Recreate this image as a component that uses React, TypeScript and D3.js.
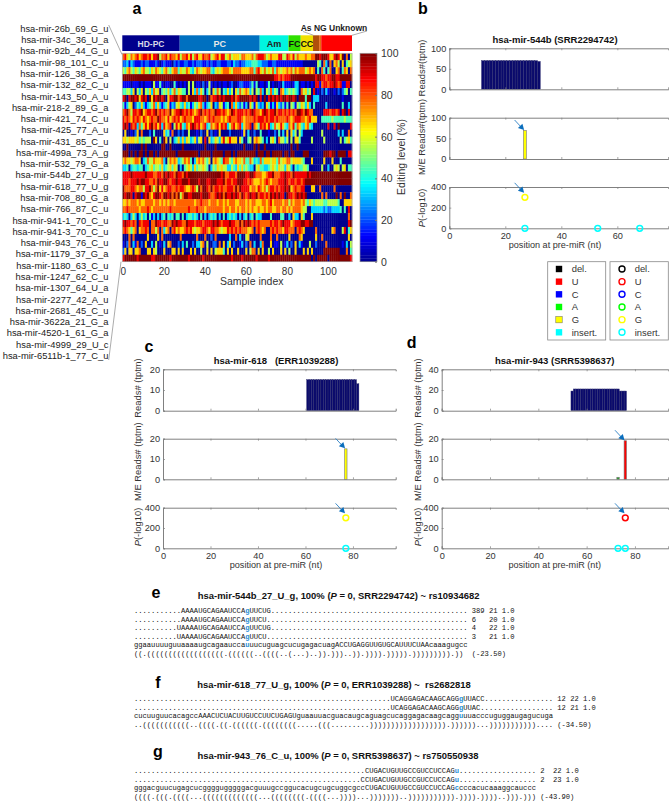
import React, { useEffect, useRef } from 'react';
import * as d3 from 'd3';

const FONT = '"Liberation Sans", Arial, sans-serif';
const MONO = '"Liberation Mono", monospace';

const sampleLabels = [
  'hsa-mir-26b_69_G_u', 'hsa-mir-34c_36_U_a', 'hsa-mir-92b_44_G_u', 'hsa-mir-98_101_C_u', 'hsa-mir-126_38_G_a',
  'hsa-mir-132_82_C_u', 'hsa-mir-143_50_A_u', 'hsa-mir-218-2_89_G_a', 'hsa-mir-421_74_C_u', 'hsa-mir-425_77_A_u',
  'hsa-mir-431_85_C_u', 'hsa-mir-499a_73_A_g', 'hsa-mir-532_79_G_a', 'hsa-mir-544b_27_U_g', 'hsa-mir-618_77_U_g',
  'hsa-mir-708_80_G_a', 'hsa-mir-766_87_C_u', 'hsa-mir-941-1_70_C_u', 'hsa-mir-941-3_70_C_u', 'hsa-mir-943_76_C_u',
  'hsa-mir-1179_37_G_a', 'hsa-mir-1180_63_C_u', 'hsa-mir-1247_62_C_u', 'hsa-mir-1307_64_U_a', 'hsa-mir-2277_42_A_u',
  'hsa-mir-2681_45_C_u', 'hsa-mir-3622a_21_G_a', 'hsa-mir-4520-1_61_G_a', 'hsa-mir-4999_29_U_c', 'hsa-mir-6511b-1_77_C_u',
];

const groupNames = ['HD-PC', 'PC', 'Am', 'FC', 'CC', 'As', 'NG', 'Unknown'];
const groupSizes = [28, 39, 14, 6, 6, 3, 1, 15];
const groupColors = ['#00008c', '#0070c0', '#00f5e0', '#30e000', '#f0e000', '#b0500a', '#e86a10', '#ff0000'];
const groupTextColors = ['#d8d8e8', '#e8e8e8', '#222', '#111', '#111', '', '', ''];

// editing level per sample, one digit per cell (digit * 100 / 9 = %)
const heatRows = [
  '7865767867 8878688957 7868776857 7868578668 7785678688 5675666577 6667578887 5676668855 8768576667 6677998999 8668986907 05',
  '2231321112 1221112101 2111021211 2211212221 1212112211 1221322122 3334443322 2112211111 1111111100 0000054073 0706750604 56',
  '5467546546 7554657654 6754677465 5764357656 6774356567 7765777766 6677478657 5657476566 7675767775 6767040740 4700670476 07',
  '9999999999 9999999999 9999999999 9999999999 9999999999 9999999999 9999999999 9999887878 8899999999 9999899887 8899889999 99',
  '1111011101 0111051141 0110041010 1050501102 0151010101 1012001221 1124140110 1401001031 1101330110 1010881788 7889878118 80',
  '4455360536 0546375604 5463574654 4050637364 0350647504 3635064756 7635054730 5473540763 4545430756 4508010203 1001020245 04',
  '8908998968 9809698998 9068899789 9799999889 9097889898 9998978999 9989890809 0898989899 8998909994 9903330000 0000000100 00',
  '4135602436 3134573631 3461325643 6341354673 1346032651 3407363241 3064163230 6413163241 4054154653 6304000003 0000000400 30',
  '7897588789 6788789787 8779678898 7878767897 8787798878 7679878887 8789877689 8788978878 7878799879 8770000088 8788780890 80',
  '8787687876 8767877987 7686787867 8777688877 6787877767 6787778876 7777878887 8788787777 8767888776 7866600444 4454444454 44',
  '8980878374 6868978683 8678058684 3768987867 8347678687 8357867836 7780764878 6834756864 3768476436 7430000000 8008090000 08',
  '0600102607 0002040000 6341700202 0050001020 0602010600 0020000016 0300200400 0100204030 6063505300 0000000500 0000030300 70',
  '6656665645 4555096040 9605034636 3653462560 8063465368 5686660640 0450676540 3056407553 5050664000 0050000050 0000005045 64',
  '0090000009 0900000009 9009000009 0000000000 9000090000 0000000009 0000909009 0000000000 0090090000 0000000000 0000000000 00',
  '9990909099 0909909099 9999990999 9999999099 9990999990 9990909999 9999909990 9909999909 9099000099 9000000099 9899099990 88',
  '6766567760 3475576667 3057676345 7674036767 5460676548 7754676657 4475343746 6656647566 7756666540 0060000060 0060004000 00',
  '3340344344 0345645546 3456465030 4565364556 5403546565 5335436464 5433056443 3456546553 6530434455 4000000500 3005650560 44',
  '8888988888 8988877887 9898879887 9899999999 9999999989 7788879999 8899877766 7889777889 8879888888 9899999999 9999999999 99',
  '8887888989 9887787988 9987889889 9989999899 9889998889 7887889998 8787666767 8767778889 8788788789 9999999999 9999999999 99',
  '9777887677 5889757968 6788778788 7667875979 9879788787 7888797988 8867768767 5788787889 8967877880 0066007000 0007000000 00',
  '9899808991 9897689987 9989797957 9988999989 9987789897 9889898798 7898897887 8798989880 9887898989 0000000707 0000907090 07',
  '6676777676 6777767767 6767767777 7777767787 7767776776 7677766777 6767766677 6786777767 7576777675 4654555544 5555540066 66',
  '7787777767 7787677777 7778777777 7787778777 6777777776 7767767677 6767667667 6776677677 6767777655 0033333323 2233334040 80',
  '3430353035 3404130303 4043404404 0344343040 3034340304 0343430303 4034043300 0040000440 0306330640 0060000000 0000000000 70',
  '8988787087 8880779887 8877989887 7988878887 8888989878 8898877979 8987878777 7787887898 8867888998 8990000000 0000000000 89',
  '7876467067 7870775707 3670786766 7878656678 8768877656 6878787877 7667078767 0078787768 8777078760 0000700000 0067000580 46',
  '0007070000 0060000607 0000000070 0000007000 7002070000 0030070300 5600000700 0070070000 0600007600 0000600700 0000000000 60',
  '1027031702 0600305010 3067000203 0400203367 0500220706 0360200130 2070300370 0060110501 3020603100 0500200007 0000000103 05',
  '2606606670 0066065000 6000660606 0006060050 0606056664 0606006000 6057706060 0506000606 0500600060 6060000099 9999990007 04',
  '8999999899 9999889999 9998999999 9989999998 9999999999 9998999989 9999989999 9899999999 9999999999 9909099999 0999999999 98',
];

const sampleTicks = [0, 20, 40, 60, 80, 100];
const colorbarTicks = [0, 20, 40, 60, 80, 100];

const baseNames = ['del.', 'U', 'C', 'A', 'G', 'insert.'];
const baseColors = ['#000000', '#ff0000', '#0000ff', '#00ff00', '#ffff00', '#00ffff'];

// mir-544b
const readsBStart = 12;
const readsB = [70, 70, 70, 70, 70, 70, 70, 70, 70, 70, 70, 70, 70, 70, 70, 70, 70, 70, 70, 70, 68];
const mutB = [{ pos: 27, value: 69, base: 'G' }];
const pointsB = [{ pos: 27, p: 300, base: 'G' }, { pos: 27, p: 0, base: 'insert.' }, { pos: 53, p: 0, base: 'insert.' }, { pos: 68, p: 0, base: 'insert.' }];
// mir-618
const readsCStart = 61;
const readsC = [15, 15, 15, 15, 15, 15, 15, 15, 15, 15, 15, 15, 15, 15, 15, 15, 15, 15, 15, 15, 15, 13];
const mutC = [{ pos: 77, value: 15, base: 'G' }];
const pointsC = [{ pos: 77, p: 300, base: 'G' }, { pos: 77, p: 0, base: 'insert.' }];
// mir-943
const readsDStart = 54;
const readsD = [19, 21, 21, 21, 21, 21, 21, 21, 21, 21, 21, 21, 21, 21, 21, 21, 21, 21, 21, 21, 19, 19, 19];
const mutD = [{ pos: 73, value: 1, base: 'A' }, { pos: 76, value: 19, base: 'U' }];
const pointsD = [{ pos: 76, p: 300, base: 'U' }, { pos: 73, p: 0, base: 'insert.' }, { pos: 76, p: 0, base: 'insert.' }];

const seqE = 'ggaauuuuguuaaaaugcagaauccauuucuguagcucugagacuagACCUGAGGUUGUGCAUUUCUAAcaaagugcc';
const structE = '((.((((((((((((((((((.((((((..((((..(...)..)).)))..)).)))).))))).))))))))).))';
const readsE = [
  { start: 11, seq: 'AAAAUGCAGAAUCCAgUUCUG', count: '389', len: '21' },
  { start: 11, seq: 'AAAAUGCAGAAUCCAgUUCU', count: '6', len: '20' },
  { start: 10, seq: 'UAAAAUGCAGAAUCCAgUUCUG', count: '4', len: '22' },
  { start: 10, seq: 'UAAAAUGCAGAAUCCAgUUCU', count: '3', len: '21' },
];
const seqF = 'cucuuguucacagccAAACUCUACUUGUCCUUCUGAGUguaauuacguacaugcaguagcucaggagacaagcagguuuacccuguggaugagucuga';
const structF = '..(((((((((((..((((.((.((((((.((((((((.....(((.........)))))))))))))))))).))))))...)))))))))))....';
const readsF = [
  { start: 60, seq: 'UCAGGAGACAAGCAGGgUUACC', count: '12', len: '22' },
  { start: 60, seq: 'UCAGGAGACAAGCAGGgUUAC', count: '12', len: '21' },
];
const seqG = 'gggacguucugagcucggggugggggacguuugccggucacugcugcuggcgccCUGACUGUUGCCGUCCUCCAGccccacucaaaggcauccc';
const structG = '((((.(((.((((...(((((((((((((...((((((((.((((...))))...)))))))..))))))))))).)))).))))..))).)))';
const readsG = [
  { start: 54, seq: 'CUGACUGUUGCCGUCCUCCAGu', count: '2', len: '22' },
  { start: 53, seq: 'CCUGACUGUUGCCGUCCUCCAGu', count: '2', len: '23' },
];

const jet = d3.scaleLinear<string>()
  .domain([0, 12.5, 37.5, 62.5, 87.5, 100])
  .range(['#00008f', '#0000ff', '#00ffff', '#ffff00', '#ff0000', '#800000']);

function drawHeatmap(svg: any) {
  const left = 122.3, right = 352, top = 53.3, bottom = 261.7;
  const nCols = 112;
  const x = d3.scaleBand<number>().domain(d3.range(nCols)).range([left, right]);
  const y = d3.scaleBand<number>().domain(d3.range(heatRows.length)).range([top, bottom]);
  const g = svg.append('g');

  heatRows.forEach((row, r) => {
    const cells = row.replace(/ /g, '').split('').map((c) => (+c * 100) / 9);
    g.selectAll(null).data(cells).enter().append('rect')
      .attr('x', (_: number, i: number) => x(i))
      .attr('y', y(r))
      .attr('width', x.bandwidth() + 0.3)
      .attr('height', y.bandwidth() + 0.3)
      .attr('fill', (d: number) => jet(d));
  });
  g.append('rect').attr('x', left).attr('y', top).attr('width', right - left).attr('height', bottom - top)
    .attr('fill', 'none').attr('stroke', '#aaa').attr('stroke-width', 0.7);

  // sample axis
  const xAxis = d3.scaleLinear().domain([-0.5, 111.5]).range([left, right]);
  g.selectAll(null).data(sampleTicks).enter().append('text')
    .attr('x', (d: number) => xAxis(d)).attr('y', 274.5)
    .attr('text-anchor', 'middle').attr('font-size', 10).attr('fill', '#333')
    .text((d: number) => d);
  svg.append('text').attr('x', 251.7).attr('y', 285).attr('text-anchor', 'middle')
    .attr('font-size', 10.5).attr('fill', '#333').text('Sample index');

  // group bar
  let acc = 0;
  groupNames.forEach((name, i) => {
    const x0 = left + (acc / nCols) * (right - left);
    const w = (groupSizes[i] / nCols) * (right - left);
    acc += groupSizes[i];
    svg.append('rect').attr('x', x0).attr('y', 35.3).attr('width', w).attr('height', 15.7).attr('fill', groupColors[i]);
    if (groupTextColors[i]) {
      svg.append('text').attr('x', x0 + w / 2).attr('y', 46.5).attr('text-anchor', 'middle')
        .attr('font-size', name.length > 2 && name !== 'PC' ? 8.5 : 9).attr('font-weight', 'bold')
        .attr('fill', groupTextColors[i]).text(name);
    }
  });
  svg.append('text').attr('x', 334).attr('y', 30.5).attr('text-anchor', 'middle')
    .attr('font-size', 8.5).attr('font-weight', 'bold').attr('fill', '#222').text('As NG Unknown');
  svg.append('path').attr('d', 'M303,31.5L313.5,35.3M352,35.3L367,31').attr('fill', 'none').attr('stroke', '#888').attr('stroke-width', 0.7);

  // row labels and the two lines that tie them to the heatmap
  const labelY = d3.scalePoint<string>().domain(sampleLabels).range([28.7, 355.7]);
  svg.selectAll(null).data(sampleLabels).enter().append('text')
    .attr('x', 108.5).attr('y', (d: string) => labelY(d)! + 3.2)
    .attr('text-anchor', 'end').attr('font-size', 9.35).attr('fill', '#222')
    .text((d: string) => d);
  svg.append('path').attr('d', 'M108.7,25L122,54.5M121,261.7L108.7,360').attr('fill', 'none').attr('stroke', '#888').attr('stroke-width', 0.7);

  // colorbar
  const cbX = 360, cbW = 17;
  const cb = d3.scaleLinear().domain([0, 100]).range([bottom, top]);
  const levels = d3.range(64).map((i) => (i + 0.5) * (100 / 64));
  svg.selectAll(null).data(levels).enter().append('rect')
    .attr('x', cbX).attr('width', cbW)
    .attr('y', (d: number) => cb(d + 100 / 128))
    .attr('height', (bottom - top) / 64 + 0.3)
    .attr('fill', (d: number) => jet(d));
  svg.append('rect').attr('x', cbX).attr('y', top).attr('width', cbW).attr('height', bottom - top)
    .attr('fill', 'none').attr('stroke', '#999').attr('stroke-width', 0.7);
  const cbAxis = d3.axisRight(cb).tickValues(colorbarTicks).tickSize(-2).tickPadding(4);
  const cbG = svg.append('g').attr('transform', `translate(${cbX + cbW},0)`).call(cbAxis);
  cbG.select('.domain').remove();
  cbG.selectAll('line').attr('stroke', '#777');
  cbG.selectAll('text').attr('font-size', 10.5).attr('font-family', FONT).attr('fill', '#333');
  svg.append('text').attr('transform', 'translate(405,157) rotate(-90)').attr('text-anchor', 'middle')
    .attr('font-size', 10.5).attr('fill', '#333').text('Editing level (%)');
}

function frame(svg: any, x: any, y: any, xTicks: number[], yTicks: number[], labelled: boolean) {
  const [l] = x.range();
  const [b, t] = y.range();
  const g = svg.append('g');
  const gray = '#808080';

  const yG = g.append('g').attr('transform', `translate(${l},0)`)
    .call(d3.axisLeft(y).tickValues(yTicks).tickSize(-2).tickPadding(3));
  const xG = g.append('g').attr('transform', `translate(0,${b})`)
    .call(d3.axisBottom(x).tickValues(xTicks).tickSize(-2).tickPadding(4));
  const xT = g.append('g').attr('transform', `translate(0,${t})`)
    .call(d3.axisTop(x).tickValues(xTicks).tickSize(-2).tickFormat(() => ''));
  [yG, xG, xT].forEach((a) => {
    a.select('.domain').attr('stroke', gray).attr('stroke-width', 1);
    a.selectAll('line').attr('stroke', gray).attr('stroke-width', 0.7);
    a.selectAll('text').attr('font-size', 9.2).attr('font-family', FONT).attr('fill', '#333');
  });
  if (!labelled) xG.selectAll('text').remove();
}

function arrow(svg: any, tipX: number, tipY: number) {
  const tail: [number, number] = [tipX - 9.5, tipY - 10];
  const angle = Math.atan2(tipY - tail[1], tipX - tail[0]);
  const size = 6.5;
  const p1 = [tipX - size * Math.cos(angle - 0.5), tipY - size * Math.sin(angle - 0.5)];
  const p2 = [tipX - size * Math.cos(angle + 0.5), tipY - size * Math.sin(angle + 0.5)];
  svg.append('line').attr('x1', tail[0]).attr('y1', tail[1]).attr('x2', tipX - 3).attr('y2', tipY - 3)
    .attr('stroke', '#2b7fc4').attr('stroke-width', 0.9);
  svg.append('path').attr('d', `M${tipX},${tipY}L${p1}L${p2}Z`).attr('fill', '#0a6ebd');
}

function drawPanel(svg: any, p: any) {
  const x = d3.scaleLinear().domain([0, p.xMax]).range([p.left, p.right]);
  const yReads = d3.scaleLinear().domain([0, p.readsMax]).range([p.rows[0][1], p.rows[0][0]]);
  const yMut = d3.scaleLinear().domain([0, p.mutMax]).range([p.rows[1][1], p.rows[1][0]]);
  const yP = d3.scaleLinear().domain([0, 400]).range([p.rows[2][1], p.rows[2][0]]);
  const unit = x(1) - x(0);

  svg.selectAll(null).data(p.reads).enter().append('rect')
    .attr('x', (_: number, i: number) => x(p.readsStart + i) - unit / 2)
    .attr('y', (d: number) => yReads(d))
    .attr('width', unit)
    .attr('height', (d: number) => yReads(0) - yReads(d))
    .attr('fill', '#0a0a6c').attr('stroke', '#30306e').attr('stroke-width', 0.4);

  const colorOf = (b: string) => baseColors[baseNames.indexOf(b)];
  svg.selectAll(null).data(p.mut).enter().append('rect')
    .attr('x', (d: any) => x(d.pos) - unit / 2)
    .attr('y', (d: any) => yMut(d.value))
    .attr('width', unit)
    .attr('height', (d: any) => yMut(0) - yMut(d.value))
    .attr('fill', (d: any) => (d.base === 'A' ? '#30a030' : colorOf(d.base)))
    .attr('stroke', '#777').attr('stroke-width', 0.6);

  frame(svg, x, yReads, p.xTicks, p.readsTicks, false);
  frame(svg, x, yMut, p.xTicks, p.mutTicks, false);
  frame(svg, x, yP, p.xTicks, [0, 200, 400], true);

  svg.selectAll(null).data(p.points).enter().append('circle')
    .attr('cx', (d: any) => x(d.pos)).attr('cy', (d: any) => yP(d.p)).attr('r', 2.9)
    .attr('fill', 'none').attr('stroke', (d: any) => colorOf(d.base)).attr('stroke-width', 1.5);

  const last = p.mut[p.mut.length - 1];
  arrow(svg, x(last.pos) - 0.8, yMut(last.value) - 0.5);
  arrow(svg, x(last.pos) - 0.8, yP(300) - 4.5);

  svg.append('text').attr('x', p.titleX).attr('y', p.rows[0][0] - 5.8).attr('text-anchor', 'middle')
    .attr('font-size', 9.5).attr('font-weight', 'bold').attr('fill', '#111').style('white-space', 'pre').text(p.title);
  svg.append('text').attr('x', p.titleX).attr('y', p.rows[2][1] + 20).attr('text-anchor', 'middle')
    .attr('font-size', 9.1).attr('fill', '#333').text('position at pre-miR (nt)');

  p.yLabels.forEach((l: any, i: number) => {
    const t = svg.append('text').attr('transform', `translate(${p.yLabelX},${l.y}) rotate(-90)`)
      .attr('text-anchor', 'middle').attr('font-size', 9.4).attr('fill', '#333');
    if (i === 2) {
      t.append('tspan').attr('font-style', 'italic').text('P');
      t.append('tspan').text('(-log10)');
    } else {
      t.text(l.text);
    }
  });
}

function drawLegend(svg: any) {
  const rowY = d3.scalePoint<string>().domain(baseNames).range([269, 332.3]);
  svg.append('rect').attr('x', 547.7).attr('y', 261.7).attr('width', 58).attr('height', 78.3).attr('fill', 'white').attr('stroke', '#888').attr('stroke-width', 0.8);
  svg.append('rect').attr('x', 610).attr('y', 261.7).attr('width', 58.3).attr('height', 78.3).attr('fill', 'white').attr('stroke', '#888').attr('stroke-width', 0.8);
  baseNames.forEach((name, i) => {
    const y = rowY(name)!;
    svg.append('rect').attr('x', 555.8).attr('y', y - 3.2).attr('width', 6.4).attr('height', 6.4)
      .attr('fill', baseColors[i]).attr('stroke', name === 'G' ? '#666' : 'none').attr('stroke-width', 0.5);
    svg.append('circle').attr('cx', 622).attr('cy', y).attr('r', 3)
      .attr('fill', 'none').attr('stroke', baseColors[i]).attr('stroke-width', 1.4);
    svg.append('text').attr('x', 571.7).attr('y', y + 3.3).attr('font-size', 9.4).attr('fill', '#333').text(name);
    svg.append('text').attr('x', 634.7).attr('y', y + 3.3).attr('font-size', 9.4).attr('fill', '#333').text(name);
  });
}

function drawAlignment(svg: any, a: any) {
  const x0 = 134;
  const lineStep = 8.5;
  const monoLine = (str: string, y: number, blueAt: number) => {
    const t = svg.append('text').attr('x', x0).attr('y', y).attr('font-family', MONO)
      .attr('font-size', 7.13).style('white-space', 'pre').attr('fill', '#111');
    t.append('tspan').text(str.slice(0, blueAt));
    t.append('tspan').attr('fill', '#1f8fd8').attr('font-weight', 'bold').text(str[blueAt]);
    t.append('tspan').text(str.slice(blueAt + 1));
  };
  const n = a.seq.length;
  a.reads.forEach((r: any, i: number) => {
    const dots = '.'.repeat(r.start) + r.seq;
    const line = dots.padEnd(n, '.') + ' ' + r.count.padEnd(a.countWidth) + ' ' + r.len + ' 1.0';
    monoLine(line, a.lineY + i * lineStep, a.mutIndex);
  });
  monoLine(a.seq, a.lineY + a.reads.length * lineStep, a.mutIndex);
  svg.append('text').attr('x', x0).attr('y', a.lineY + (a.reads.length + 1) * lineStep)
    .attr('font-family', MONO).attr('font-size', 7.13).style('white-space', 'pre').attr('fill', '#111')
    .text(a.struct.padEnd(n + 1) + a.energy);

  svg.append('text').attr('x', a.letterX).attr('y', a.letterY).attr('text-anchor', 'middle')
    .attr('font-size', 16).attr('font-weight', 'bold').attr('fill', '#000').text(a.letter);
  const title = svg.append('text').attr('x', a.titleX).attr('y', a.titleY).attr('text-anchor', 'middle')
    .attr('font-size', 9.45).attr('font-weight', 'bold').attr('fill', '#111').style('white-space', 'pre');
  title.append('tspan').text(a.title[0]);
  title.append('tspan').attr('font-style', 'italic').text('P');
  title.append('tspan').text(a.title[1]);
}

export default function App() {
  const ref = useRef<SVGSVGElement>(null);

  useEffect(() => {
    const svg = d3.select(ref.current);
    svg.selectAll('*').remove();
    svg.attr('font-family', FONT);

    drawHeatmap(svg);

    const panelRows = [[369.3, 410.7], [438.7, 479.3], [507.7, 548.3]];
    drawPanel(svg, {
      left: 449.3, right: 668.3, xMax: 78.2, xTicks: [0, 20, 40, 60],
      rows: [[48.3, 89.3], [117.7, 159], [187, 228.3]],
      reads: readsB, readsStart: readsBStart, readsMax: 100, readsTicks: [0, 50, 100],
      mut: mutB, mutMax: 100, mutTicks: [0, 50, 100], points: pointsB,
      title: 'hsa-mir-544b (SRR2294742)', titleX: 555,
      yLabelX: 425, yLabels: [{ y: 68, text: 'Reads#(tptm)' }, { y: 137, text: 'M/E Reads#(tptm)' }, { y: 208 }],
    });
    drawPanel(svg, {
      left: 163, right: 395.7, xMax: 98, xTicks: [0, 20, 40, 60, 80],
      rows: panelRows,
      reads: readsC, readsStart: readsCStart, readsMax: 20, readsTicks: [0, 10, 20],
      mut: mutC, mutMax: 20, mutTicks: [0, 10, 20], points: pointsC,
      title: 'hsa-mir-618   (ERR1039288)', titleX: 276,
      yLabelX: 141, yLabels: [{ y: 388, text: 'Reads# (tptm)' }, { y: 461.7, text: 'M/E Reads# (tptm)' }, { y: 527 }],
    });
    drawPanel(svg, {
      left: 441.7, right: 668.3, xMax: 93.8, xTicks: [0, 20, 40, 60, 80],
      rows: panelRows,
      reads: readsD, readsStart: readsDStart, readsMax: 40, readsTicks: [0, 20, 40],
      mut: mutD, mutMax: 20, mutTicks: [0, 10, 20], points: pointsD,
      title: 'hsa-mir-943 (SRR5398637)', titleX: 554.7,
      yLabelX: 420.5, yLabels: [{ y: 388, text: 'Reads# (tptm)' }, { y: 461.7, text: 'M/E Reads# (tptm)' }, { y: 527 }],
    });

    drawLegend(svg);

    drawAlignment(svg, {
      seq: seqE, struct: structE, reads: readsE, mutIndex: 26, countWidth: 3, energy: '(-23.50)', lineY: 613,
      letter: 'e', letterX: 156, letterY: 598, titleX: 338.7, titleY: 599,
      title: ['hsa-mir-544b_27_U_g, 100% (', ' = 0, SRR2294742) ~ rs10934682'],
    });
    drawAlignment(svg, {
      seq: seqF, struct: structF, reads: readsF, mutIndex: 76, countWidth: 2, energy: '(-34.50)', lineY: 701,
      letter: 'f', letterX: 158, letterY: 688, titleX: 334, titleY: 687.5,
      title: ['hsa-mir-618_77_U_g, 100% (', ' = 0, ERR1039288) ~  rs2682818'],
    });
    drawAlignment(svg, {
      seq: seqG, struct: structG, reads: readsG, mutIndex: 75, countWidth: 2, energy: '(-43.90)', lineY: 773,
      letter: 'g', letterX: 158, letterY: 757, titleX: 338, titleY: 759,
      title: ['hsa-mir-943_76_C_u, 100% (', ' = 0, SRR5398637) ~ rs750550938'],
    });

    const letters = [['a', 137, 14], ['b', 423, 14], ['c', 149, 352], ['d', 411.7, 348]];
    letters.forEach(([t, lx, ly]) => {
      svg.append('text').attr('x', lx).attr('y', ly).attr('text-anchor', 'middle')
        .attr('font-size', 16).attr('font-weight', 'bold').attr('fill', '#000').text(t as string);
    });
  }, []);

  return <svg ref={ref} width={669} height={803} style={{ position: 'absolute', left: 0, top: 0, background: 'white' }} />;
}
